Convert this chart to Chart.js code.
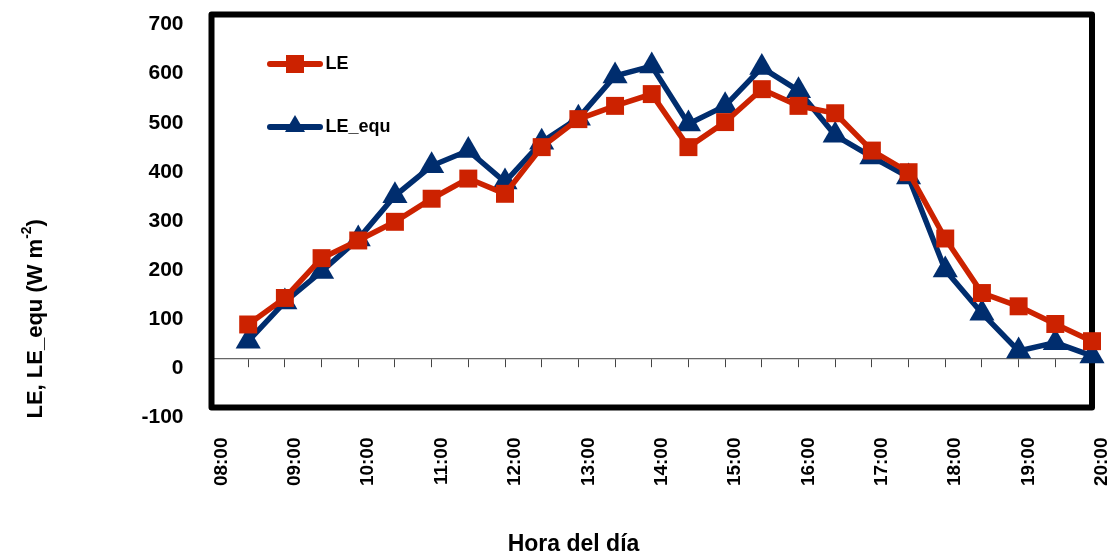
<!DOCTYPE html>
<html>
<head>
<meta charset="utf-8">
<script src="https://cdn.jsdelivr.net/npm/chart.js@4.4.1/dist/chart.umd.min.js"></script>
<style>
html, body { margin: 0; padding: 0; background: #fff; }
#wrap { width: 1119px; height: 559px; }
</style>
</head>
<body>
<div id="wrap"><canvas id="le"></canvas></div>
<script>
// horas cada media hora, valores en W m-2
let horas = ['08:00','08:30','09:00','09:30','10:00','10:30','11:00','11:30','12:00','12:30',
             '13:00','13:30','14:00','14:30','15:00','15:30','16:00','16:30','17:00','17:30',
             '18:00','18:30','19:00','19:30','20:00'];
let leArr    = [null, 69, 123, 204, 240, 278, 325, 366, 335, 430, 487, 514, 538,
                430, 481, 548, 514, 499, 423, 379, 244, 133, 106, 70, 35];
let leEquArr = [null, 35, 115, 177, 243, 331, 392, 423, 359, 440, 489, 575, 595,
                477, 514, 592, 545, 454, 410, 369, 180, 92, 15, 32, 5];
let yMin = -100, yMax = 700, yStep = 100;

const rojo = '#cc2200';
const azul = '#002d6e';
const fuente = '"Liberation Sans", Arial, sans-serif';

// icono de leyenda: linea con marcador
function iconoLeyenda(color, estilo) {
    const c = document.createElement('canvas');
    c.width = 73; c.height = 30;
    const g = c.getContext('2d');
    g.strokeStyle = color;
    g.fillStyle = color;
    g.lineWidth = 6;
    g.lineCap = 'round';
    g.beginPath(); g.moveTo(20, 15); g.lineTo(70, 15); g.stroke();
    if (estilo === 'rect') {
        g.fillRect(36, 6, 18, 18);
    } else {
        g.beginPath(); g.moveTo(45, 3); g.lineTo(55, 20); g.lineTo(35, 20); g.closePath(); g.fill();
    }
    return c;
}
const iconos = [iconoLeyenda(rojo, 'rect'), iconoLeyenda(azul, 'triangle')];

const marco = {
    id: 'marco',
    beforeDatasetsDraw(chart) {
        const {ctx, chartArea: a} = chart;
        ctx.save();
        ctx.strokeStyle = '#000';
        ctx.lineWidth = 6;
        ctx.lineJoin = 'round';
        ctx.strokeRect(a.left, a.top, a.right - a.left, a.bottom - a.top);
        ctx.restore();
    }
};

const titulos = {
    id: 'titulos',
    afterDraw(chart) {
        const {ctx, chartArea: a} = chart;
        ctx.save();
        ctx.fillStyle = '#000';
        ctx.textBaseline = 'middle';
        // eje x
        ctx.font = 'bold 23px ' + fuente;
        ctx.textAlign = 'center';
        ctx.fillText('Hora del día', chart.width / 2 + 14, chart.height - 14);
        // eje y, con superindice
        ctx.translate(36, a.bottom + 11);
        ctx.rotate(-Math.PI / 2);
        ctx.textAlign = 'left';
        ctx.font = 'bold 22px ' + fuente;
        let t = 'LE, LE_equ (W m';
        ctx.fillText(t, 0, 0);
        let w = ctx.measureText(t).width;
        ctx.font = 'bold 14px ' + fuente;
        ctx.fillText('-2', w, -9);
        w += ctx.measureText('-2').width;
        ctx.font = 'bold 22px ' + fuente;
        ctx.fillText(')', w, 0);
        ctx.restore();
    }
};

const ctx = document.getElementById('le').getContext('2d');
const leChart = new Chart(ctx, {
    type: 'line',
    data: {
        labels: horas,
        datasets: [
            {
                label: 'LE',
                data: leArr,
                borderColor: rojo,
                backgroundColor: rojo,
                borderWidth: 5.5,
                pointStyle: 'rect',
                pointRadius: 12.7,
                pointBorderWidth: 0,
                tension: 0,
                clip: false
            },
            {
                label: 'LE_equ',
                data: leEquArr,
                borderColor: azul,
                backgroundColor: azul,
                borderWidth: 5.5,
                pointStyle: 'triangle',
                pointRadius: 14.5,
                pointBorderWidth: 0,
                tension: 0,
                clip: false
            }
        ]
    },
    options: {
        responsive: true,
        maintainAspectRatio: false,
        animation: false,
        layout: { padding: { left: 0, top: 10.5, right: 27, bottom: 0 } },
        scales: {
            x: {
                grid: { display: false, drawTicks: false },
                border: { display: false },
                ticks: {
                    autoSkip: false,
                    minRotation: 90,
                    maxRotation: 90,
                    padding: 30,
                    labelOffset: 10,
                    color: '#000',
                    font: { family: fuente, size: 19, weight: 'bold' },
                    callback: function(v, i) {
                        return horas[i].endsWith(':00') ? horas[i] : '';
                    }
                },
                afterFit: function(s) { s.height = 151.5; s.paddingLeft = 0; s.paddingRight = 0; }
            },
            x2: {
                type: 'category',
                position: { y: 0 },
                grid: { drawOnChartArea: false, tickLength: 8, color: '#444' },
                border: { color: '#666', width: 1.2 },
                ticks: { display: false }
            },
            y: {
                min: yMin,
                max: yMax,
                grid: { display: false, drawTicks: false },
                border: { display: false },
                ticks: {
                    stepSize: yStep,
                    padding: 28,
                    labelOffset: 10,
                    color: '#000',
                    font: { family: fuente, size: 21, weight: 'bold' }
                },
                afterFit: function(s) { s.width = 211.5; s.paddingTop = 0; s.paddingBottom = 0; }
            }
        },
        plugins: {
            legend: {
                position: 'chartArea',
                align: 'start',
                title: { display: true, text: '', padding: 0, font: { size: 10, lineHeight: 1 } },
                labels: {
                    usePointStyle: true,
                    pointStyleWidth: 60,
                    padding: 45,
                    color: '#000',
                    font: { family: fuente, size: 18, weight: 'bold' },
                    generateLabels: function(chart) {
                        const items = Chart.defaults.plugins.legend.labels.generateLabels(chart);
                        items.forEach((it, i) => { it.pointStyle = iconos[i]; });
                        return items;
                    }
                }
            },
            tooltip: { enabled: false }
        }
    },
    plugins: [marco, titulos]
});
</script>
</body>
</html>
